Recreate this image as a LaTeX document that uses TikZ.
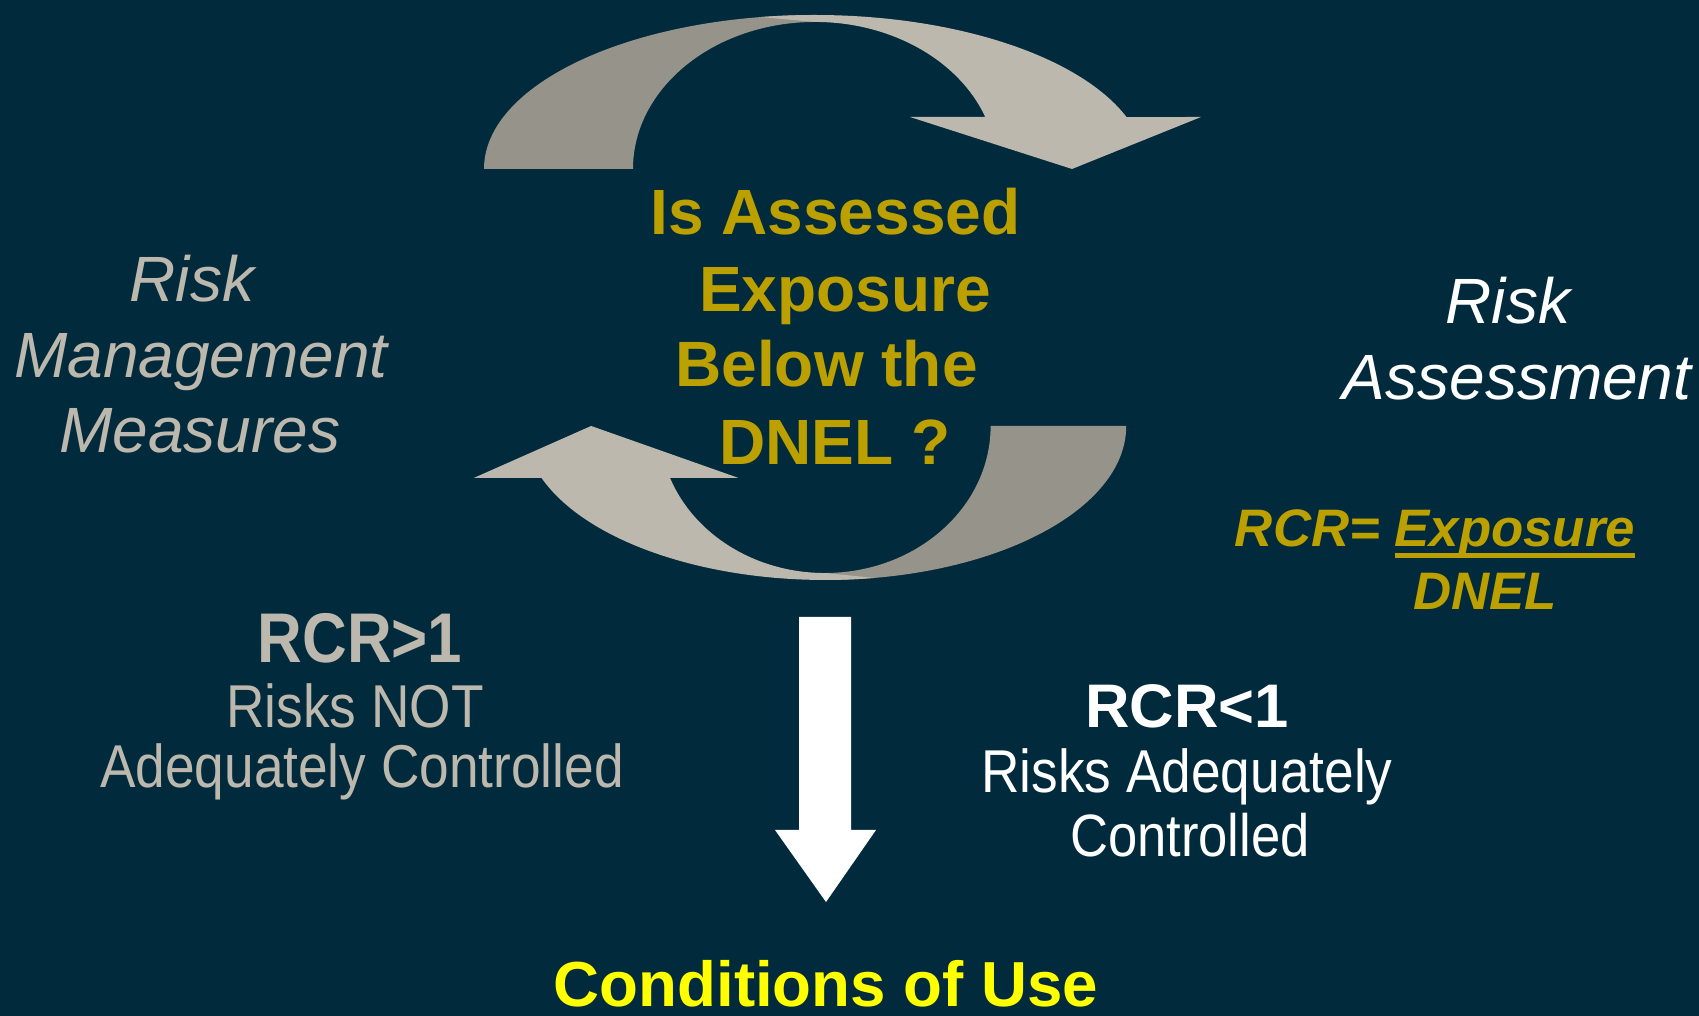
\documentclass[tikz,border=0pt]{standalone}
\usepackage{fontspec}
\setmainfont{Liberation Sans}
\newfontfamily\slimfont[FakeStretch=0.88]{Liberation Sans}
\usepackage{tikz}
\definecolor{slatebg}{RGB}{1,43,60}
\definecolor{arrowlight}{RGB}{188,184,174}
\definecolor{arrowdark}{RGB}{150,147,139}
\definecolor{dnelgold}{RGB}{187,160,0}
\definecolor{useyellow}{RGB}{255,255,0}

\newsavebox\ulbox
\newcommand{\thickul}[1]{\sbox\ulbox{#1}\rlap{\rule[-3.1pt]{\wd\ulbox}{1.4pt}}\usebox\ulbox}

% one half of the cycle, drawn round (0,0): dark tail, light arc with head
\newcommand{\loopshape}{%
  \fill[arrowdark] (-331,0) arc[start angle=180,end angle=90,x radius=331,y radius=154]
    -- (0,147) arc[start angle=90,end angle=180,x radius=182,y radius=147] -- cycle;
  \fill[arrowlight] (-54.1,151.9) arc[start angle=99.4,end angle=19.7,x radius=331,y radius=154]
    -- (386,52) -- (257,0) -- (95,52) -- (170.3,52)
    arc[start angle=20.7,end angle=90,x radius=182,y radius=147] -- cycle;
}

\begin{document}
\begin{tikzpicture}[x=0.01cm,y=0.01cm,
    every node/.style={anchor=base,inner sep=0pt},
    question/.style={text=dnelgold,font=\fontsize{18.2}{22}\selectfont\bfseries},
    mgmt/.style={text=arrowlight,font=\fontsize{18.2}{22}\selectfont\itshape},
    assess/.style={text=white,font=\fontsize{18.2}{22}\selectfont\itshape},
    formula/.style={text=dnelgold,font=\fontsize{15}{18}\selectfont\bfseries\itshape}]
    \useasboundingbox (0,0) rectangle (1699,1016);
    \fill[slatebg] (0,0) rectangle (1699,1016);

    % the two curved arrows
    \begin{scope}[shift={(815,847)}]
        \loopshape
    \end{scope}
    \begin{scope}[shift={(825,590)},rotate=180,xscale=0.91]
        \loopshape
    \end{scope}

    % question in the middle
    \node[question] (q1) at (835.5,781) {Is Assessed};
    \node[question] (q2) at (845,704) {Exposure};
    \node[question] (q3) at (826.5,629) {Below the};
    \node[question] (q4) at (835,551) {DNEL ?};

    % left side
    \node[mgmt] (rmm1) at (192,714) {Risk};
    \node[mgmt] (rmm2) at (201,638) {Management};
    \node[mgmt] (rmm3) at (200,563) {Measures};

    % right side
    \node[assess] (ra1) at (1508,692) {Risk};
    \node[assess] (ra2) at (1517,616) {Assessment};
    \node[formula] (rcrfrac) at (1435,469) {RCR= \thickul{Exposure}};
    \node[formula] (rcrden) at (1485,406) {DNEL};

    % RCR > 1
    \node[text=arrowlight,font=\fontsize{20}{24}\selectfont\slimfont\bfseries] (rcrhigh) at (360,353) {RCR>1};
    \node[text=arrowlight,font=\fontsize{17.2}{20}\selectfont\slimfont] (high1) at (355,288) {Risks NOT};
    \node[text=arrowlight,font=\fontsize{17.2}{20}\selectfont\slimfont] (high2) at (362,228) {Adequately Controlled};

    % RCR < 1
    \node[text=white,font=\fontsize{17.5}{21}\selectfont\bfseries] (rcrlow) at (1187,288) {RCR<1};
    \node[text=white,font=\fontsize{17.2}{20}\selectfont\slimfont] (low1) at (1187,223) {Risks Adequately};
    \node[text=white,font=\fontsize{17}{20}\selectfont\slimfont] (low2) at (1190,159) {Controlled};

    % down arrow
    \fill[white] (799,399) -- (851,399) -- (851,186) -- (876,186) -- (826,114) -- (775,186) -- (799,186) -- cycle;
    \node[text=useyellow,font=\fontsize{18.1}{22}\selectfont\bfseries] (use) at (826,9) {Conditions of Use};
\end{tikzpicture}
\end{document}
